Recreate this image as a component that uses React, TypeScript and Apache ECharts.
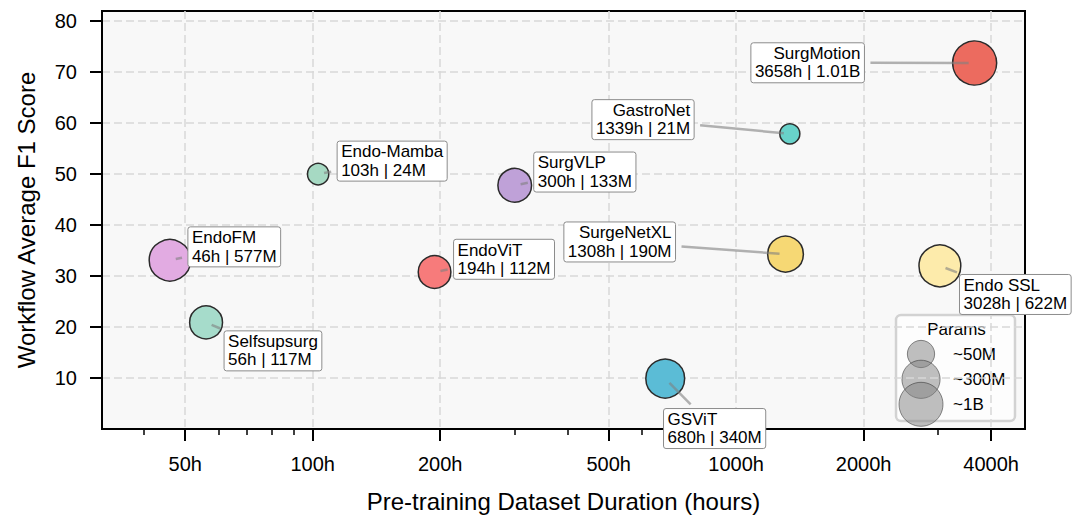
import React, { useEffect, useRef } from 'react';
import * as echarts from 'echarts';

// ---------------- data ----------------
const MODELS = ['EndoFM', 'Selfsupsurg', 'Endo-Mamba', 'EndoViT', 'SurgVLP', 'GSViT', 'SurgeNetXL', 'GastroNet', 'Endo SSL', 'SurgMotion'];
const HOURS = [46, 56, 103, 194, 300, 680, 1308, 1339, 3028, 3658];
const F1 = [33.1, 20.9, 50.0, 30.8, 47.8, 9.9, 34.3, 57.9, 32.0, 71.8];
const PARAMS_M = [577, 117, 24, 112, 133, 340, 190, 21, 622, 1010];
const PARAM_LABELS = ['577M', '117M', '24M', '112M', '133M', '340M', '190M', '21M', '622M', '1.01B'];

const X_TICKS = [50, 100, 200, 500, 1000, 2000, 4000];
const X_MINOR_TICKS = [40, 60, 70, 80, 90, 300, 400, 600, 700, 800, 900, 3000];
const Y_TICKS = [10, 20, 30, 40, 50, 60, 70, 80];

const LEGEND_VALUES = [50, 300, 1000];
const LEGEND_LABELS = ['~50M', '~300M', '~1B'];

// ---------------- styles / layout ----------------
const COLORS = ['#e2abe2', '#a6dccb', '#a6d9c3', '#f77b7b', '#bfa1d8', '#5bbcd6', '#f6d874', '#68d2ca', '#fdebab', '#ec6b5f'];
// label box anchor relative to point: [dx, dy(top), align]
const LABEL_LAYOUT: [number, number, 'left' | 'right'][] = [
  [18, -33.4, 'left'],
  [18, 8.4, 'left'],
  [19, -33, 'left'],
  [19, -32.7, 'left'],
  [19, -33.3, 'left'],
  [-1.7, 30, 'left'],
  [-110, -32.2, 'right'],
  [-95.7, -34.2, 'right'],
  [19.6, 8.6, 'left'],
  [-110.2, -20.2, 'right'],
];

const FONT = '"Liberation Sans", Arial, Helvetica, sans-serif';
const LABEL_FS = 17;
const LH = 18.3;
const PADX = 4;
const PADY = 1.7;
const SHRINK = 6;

function bubbleSize(m: number): number {
  return Math.sqrt(914 * Math.log10(m) - 807);
}

let measureCtx: CanvasRenderingContext2D | null = null;
function textWidth(s: string): number {
  if (!measureCtx) measureCtx = document.createElement('canvas').getContext('2d');
  if (!measureCtx) return s.length * LABEL_FS * 0.55;
  measureCtx.font = `${LABEL_FS}px ${FONT}`;
  return measureCtx.measureText(s).width;
}

function renderLabel(params: any, api: any) {
  const i = params.dataIndex;
  const p = api.coord([api.value(0), api.value(1)]);
  const [dx, dy, align] = LABEL_LAYOUT[i];
  const lines = [MODELS[i], `${HOURS[i]}h | ${PARAM_LABELS[i]}`];
  const tw = Math.max(...lines.map(textWidth));
  const bw = tw + 2 * PADX;
  const bh = 2 * LH + 2 * PADY;
  const bx = align === 'left' ? p[0] + dx : p[0] + dx - bw;
  const by = p[1] + dy;
  const cx = bx + bw / 2;
  const cy = by + bh / 2;
  const vx = p[0] - cx;
  const vy = p[1] - cy;
  const len = Math.hypot(vx, vy);
  const tX = vx !== 0 ? bw / 2 / Math.abs(vx) : Infinity;
  const tY = vy !== 0 ? bh / 2 / Math.abs(vy) : Infinity;
  const tEdge = Math.min(tX, tY);
  const s = tEdge * len + SHRINK;
  const e = len - SHRINK;
  const children: any[] = [];
  if (e > s) {
    const ux = vx / len;
    const uy = vy / len;
    children.push({
      type: 'line',
      shape: { x1: cx + ux * s, y1: cy + uy * s, x2: cx + ux * e, y2: cy + uy * e },
      style: { stroke: 'rgba(128,128,128,0.6)', lineWidth: 2.5 },
    });
  }
  children.push({
    type: 'rect',
    shape: { x: bx, y: by, width: bw, height: bh, r: 2.5 },
    style: { fill: '#ffffff', stroke: '#8c8c8c', lineWidth: 1 },
  });
  children.push({
    type: 'text',
    x: align === 'left' ? bx + PADX : bx + bw - PADX,
    y: by + PADY,
    style: {
      text: lines.join('\n'),
      fill: '#000',
      fontSize: LABEL_FS,
      fontFamily: FONT,
      align,
      verticalAlign: 'top',
      lineHeight: LH,
    },
  });
  return { type: 'group', children };
}

function legendGraphic() {
  const bx = 896, by = 315, bw = 119, bh = 106;
  const cx = 921;
  const rowY = [354, 379.3, 404.3];
  const children: any[] = [
    {
      type: 'rect',
      shape: { x: bx, y: by, width: bw, height: bh, r: 5 },
      style: { fill: 'rgba(255,255,255,0.7)', stroke: '#d2d2d2', lineWidth: 2.5 },
    },
    {
      type: 'text',
      x: bx + bw / 2 + 1,
      y: 329.5,
      style: { text: 'Params', fill: '#000', fontSize: 17, fontFamily: FONT, align: 'center', verticalAlign: 'middle' },
    },
  ];
  LEGEND_VALUES.forEach((v, k) => {
    children.push({
      type: 'circle',
      shape: { cx, cy: rowY[k], r: bubbleSize(v) / 2 },
      style: { fill: 'rgba(128,128,128,0.5)', stroke: 'rgba(50,50,50,0.55)', lineWidth: 1 },
    });
  });
  LEGEND_VALUES.forEach((v, k) => {
    children.push({
      type: 'text',
      x: 953,
      y: rowY[k],
      style: { text: LEGEND_LABELS[k], fill: '#000', fontSize: 17, fontFamily: FONT, align: 'left', verticalAlign: 'middle' },
    });
  });
  return { type: 'group', children, z: 100 };
}

const X_MIN = 31.8;
const X_MAX = 4810;

export default function App() {
  const ref = useRef<HTMLDivElement>(null);
  useEffect(() => {
    if (!ref.current) return;
    const chart = echarts.init(ref.current, null, { renderer: 'svg' });
    const gridLine = { show: true, lineStyle: { color: '#d8d8d8', width: 1.5, type: [8, 4] as any } };
    const option: any = {
      animation: false,
      backgroundColor: '#ffffff',
      textStyle: { fontFamily: FONT },
      grid: {
        left: 102,
        right: 55,
        top: 11,
        bottom: 90,
        containLabel: false,
        outerBoundsMode: 'none',
        show: true,
        backgroundColor: '#f8f8f8',
        borderColor: '#000',
        borderWidth: 2,
      },
      xAxis: [
        {
          type: 'log',
          logBase: 10,
          min: X_MIN,
          max: X_MAX,
          position: 'bottom',
          name: 'Pre-training Dataset Duration (hours)',
          nameLocation: 'middle',
          nameGap: 60,
          nameTextStyle: { fontSize: 24, color: '#000', fontFamily: FONT },
          axisLine: { show: true, lineStyle: { color: '#000', width: 2 } },
          axisTick: { show: true, length: 12, lineStyle: { color: '#000', width: 2 }, customValues: X_TICKS },
          axisLabel: {
            customValues: X_TICKS,
            formatter: (v: number) => `${Math.round(v)}h`,
            fontSize: 20,
            color: '#000',
            margin: 25,
            fontFamily: FONT,
          },
          splitLine: gridLine,
          minorTick: { show: false },
        },
        {
          type: 'log',
          logBase: 10,
          min: X_MIN,
          max: X_MAX,
          position: 'bottom',
          gridIndex: 0,
          axisLine: { show: false },
          axisTick: { show: true, length: 6, lineStyle: { color: '#000', width: 1.5 }, customValues: X_MINOR_TICKS },
          axisLabel: { show: false },
          splitLine: { show: false },
        },
      ],
      yAxis: {
        type: 'value',
        min: 0,
        max: 82,
        name: 'Workflow Average F1 Score',
        nameLocation: 'middle',
        nameGap: 64,
        nameTextStyle: { fontSize: 24, color: '#000', fontFamily: FONT },
        axisLine: { show: true, lineStyle: { color: '#000', width: 2 } },
        axisTick: { show: true, length: 12, lineStyle: { color: '#000', width: 2 }, customValues: Y_TICKS },
        axisLabel: { customValues: Y_TICKS, fontSize: 20, color: '#000', margin: 25, fontFamily: FONT },
        splitLine: gridLine,
      },
      series: [
        {
          type: 'scatter',
          xAxisIndex: 0,
          yAxisIndex: 0,
          z: 2,
          silent: true,
          data: HOURS.map((h, i) => ({ value: [h, F1[i], PARAMS_M[i]], itemStyle: { color: COLORS[i] } })),
          symbolSize: (v: number[]) => bubbleSize(v[2]),
          itemStyle: { borderColor: '#2b2b2b', borderWidth: 1.5, opacity: 1 },
          emphasis: { disabled: true },
        },
        {
          type: 'custom',
          xAxisIndex: 0,
          yAxisIndex: 0,
          z: 5,
          clip: false,
          silent: true,
          data: HOURS.map((h, i) => [h, F1[i]]),
          renderItem: renderLabel,
        },
      ],
      graphic: [legendGraphic()],
    };
    chart.setOption(option);
    return () => chart.dispose();
  }, []);
  return (
    <div
      ref={ref}
      style={{ position: 'fixed', left: 0, top: 0, width: 1080, height: 519, background: '#fff' }}
    />
  );
}
